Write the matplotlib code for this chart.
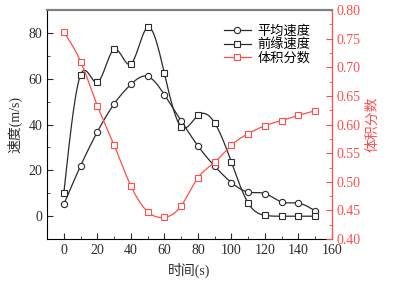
import numpy as np
import matplotlib.pyplot as plt
from matplotlib.ticker import MultipleLocator
from matplotlib.lines import Line2D

plt.rcParams['font.family'] = ['Liberation Serif', 'Noto Sans CJK SC']
plt.rcParams['font.size'] = 10

# data
t = [0, 10, 20, 30, 40, 50, 60, 70, 80, 90, 100, 110, 120, 130, 140, 150]
v_mean = [5.2, 22, 36.8, 49, 57.5, 61, 53, 41.6, 30.7, 21.8, 14.7, 10.5, 9.9, 6.2, 5.7, 2.3]
v_front = [10.2, 61.7, 58.4, 72.8, 66.4, 82.4, 62.3, 39, 44, 40.7, 23.6, 5.7, 0.4, 0, 0, 0]
frac = [0.761, 0.710, 0.633, 0.564, 0.493, 0.448, 0.438, 0.458, 0.507, 0.534,
        0.564, 0.584, 0.598, 0.607, 0.616, 0.624]


def spline(x, y, n=400):
    # natural cubic spline through the points
    x = np.asarray(x, float)
    y = np.asarray(y, float)
    k = len(x)
    h = np.diff(x)
    A = np.zeros((k, k))
    b = np.zeros(k)
    A[0, 0] = A[-1, -1] = 1
    for i in range(1, k - 1):
        A[i, i - 1] = h[i - 1]
        A[i, i] = 2 * (h[i - 1] + h[i])
        A[i, i + 1] = h[i]
        b[i] = 6 * ((y[i + 1] - y[i]) / h[i] - (y[i] - y[i - 1]) / h[i - 1])
    m = np.linalg.solve(A, b)
    xs = np.linspace(x[0], x[-1], n)
    idx = np.clip(np.searchsorted(x, xs) - 1, 0, k - 2)
    x0, x1 = x[idx], x[idx + 1]
    hh = x1 - x0
    a = (x1 - xs) / hh
    c = (xs - x0) / hh
    ys = (a * y[idx] + c * y[idx + 1]
          + ((a ** 3 - a) * m[idx] + (c ** 3 - c) * m[idx + 1]) * hh ** 2 / 6)
    return xs, ys


fig = plt.figure(figsize=(3.99, 2.84), dpi=100)
ax = fig.add_axes([0.118, 0.158, 0.714, 0.807])
ax2 = ax.twinx()

dark = '#2b2b2b'
red = '#ff4d4d'
mk = dict(markerfacecolor='white', markersize=4.5, markeredgewidth=0.8)

xs, ys = spline(t, v_mean)
ax.plot(xs, ys, color=dark, lw=0.9)
ax.plot(t, v_mean, 'o', color=dark, **mk)
xs, ys = spline(t, v_front)
ax.plot(xs, ys, color=dark, lw=0.9)
ax.plot(t, v_front, 's', color=dark, **mk)
xs, ys = spline(t, frac)
ax2.plot(xs, ys, color=red, lw=0.9)
ax2.plot(t, frac, 's', color=red, **mk)

ax.set_xlim(-10, 160)
ax.set_ylim(-10, 90)
ax2.set_ylim(0.40, 0.80)

ax.xaxis.set_major_locator(MultipleLocator(20))
ax.xaxis.set_minor_locator(MultipleLocator(10))
ax.yaxis.set_major_locator(MultipleLocator(20))
ax.yaxis.set_minor_locator(MultipleLocator(10))
ax2.yaxis.set_major_locator(MultipleLocator(0.05))
ax2.yaxis.set_minor_locator(MultipleLocator(0.025))
ax2.yaxis.set_major_formatter(plt.FormatStrFormatter('%.2f'))

ax.tick_params(which='both', direction='in', top=False, right=False, colors=dark)
ax.tick_params(which='major', length=4)
ax.tick_params(which='minor', length=2)
ax2.tick_params(which='both', direction='in', colors=red)
ax2.tick_params(which='major', length=4)
ax2.tick_params(which='minor', length=2)

ax2.spines['right'].set_color(red)
ax2.spines['top'].set_color('#808080')
ax2.spines['top'].set_linewidth(1.5)
ax2.spines['left'].set_visible(False)
ax2.spines['bottom'].set_visible(False)
ax.spines['top'].set_color('#808080')
ax.spines['top'].set_linewidth(1.5)

ax.set_xlabel('时间(s)', color=dark, labelpad=4)
ax.set_ylabel('速度(m/s)', color=dark, labelpad=4)
ax2.set_ylabel('体积分数', color=red, labelpad=4)

handles = [
    Line2D([], [], color=dark, lw=0.9, marker='o', **mk),
    Line2D([], [], color=dark, lw=0.9, marker='s', **mk),
    Line2D([], [], color=red, lw=0.9, marker='s', **mk),
]
ax.legend(handles, ['平均速度', '前缘速度', '体积分数'], loc='upper right',
          bbox_to_anchor=(0.965, 0.985), frameon=False, fontsize=9.5,
          handlelength=2.0, labelspacing=0.05, borderaxespad=0.5,
          handletextpad=0.5)

fig.savefig('out.png', dpi=100)
